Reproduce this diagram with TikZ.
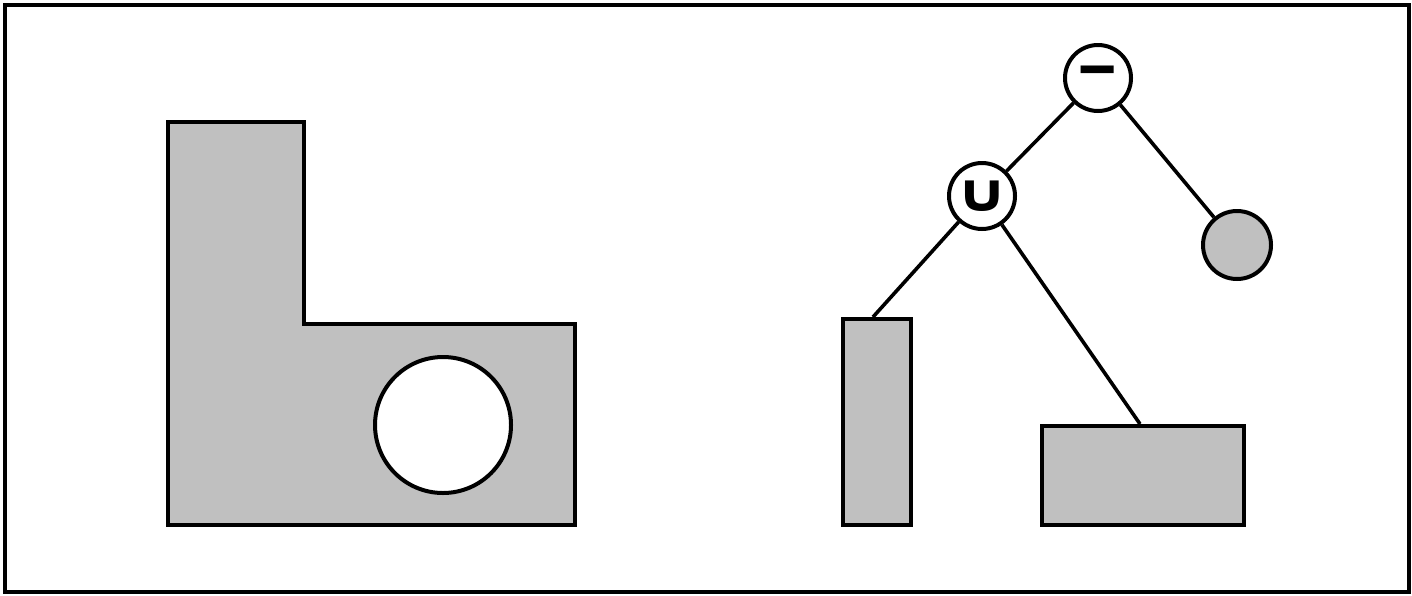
\documentclass[tikz,border=0pt]{standalone}
\usepackage{fontspec}
\usepackage{graphicx}
\newfontfamily\symfont{DejaVu Sans}
\usetikzlibrary{positioning}
\definecolor{shade}{RGB}{192,192,192}
\tikzset{
  solid/.style={draw, line width=2pt, fill=shade},
  opnode/.style={circle, draw, line width=2pt, fill=white, minimum size=33pt,
                 inner sep=0pt, font=\symfont\bfseries\fontsize{22}{24}\selectfont},
  leaf/.style={draw, line width=2pt, fill=shade, inner sep=0pt},
  edge/.style={line width=1.8pt},
}
\begin{document}
\begin{tikzpicture}[x=0.5pt, y=-0.5pt]
    \useasboundingbox (0,0) rectangle (1412,595);
    \draw[line width=2.2pt] (5,5) rectangle (1409,592);
    % solid with hole
    \draw[solid] (168,122) -- (304,122) -- (304,324) -- (575,324)
      -- (575,525) -- (168,525) -- cycle;
    \draw[solid, fill=white] (443,425) circle (68);
    % CSG tree
    \node[opnode] (diff) at (1098,78) {\raisebox{-3pt}{\scalebox{1.2}[1.5]{−}}};
    \node[opnode] (uni) at (982,196) {\raisebox{-2pt}{\scalebox{1.5}[1.2]{∪}}};
    \node[leaf, circle, minimum size=34pt] (ball) at (1237,245) {};
    \node[leaf, minimum width=34pt, minimum height=103pt] (bar) at (877,422) {};
    \node[leaf, minimum width=101pt, minimum height=49.5pt] (slab) at (1143,475.5) {};
    \draw[edge] (diff) -- (uni);
    \draw[edge] (diff) -- (ball);
    \draw[edge] (uni) -- ([xshift=-2pt]bar.north);
    \draw[edge] (uni) -- ([xshift=-1.5pt]slab.north);
\end{tikzpicture}
\end{document}
